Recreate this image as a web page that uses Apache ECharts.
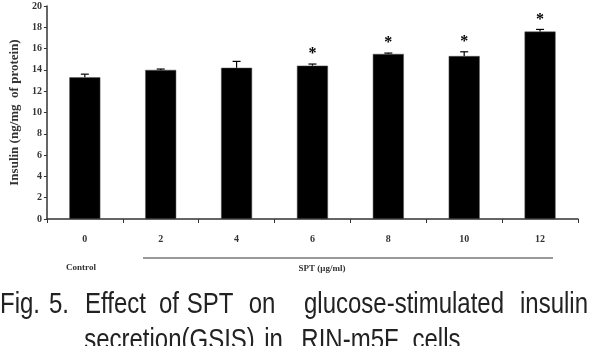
<!DOCTYPE html>
<html>
<head>
<meta charset="utf-8">
<script src="https://cdn.jsdelivr.net/npm/echarts@6/dist/echarts.min.js"></script>
<style>
  html, body { margin: 0; padding: 0; background: #fff; }
  #chart { width: 590px; height: 346px; }
</style>
</head>
<body>
<div id="chart"></div>
<script>
// SPT dose (ug/ml), 0 = control
var doses = ['0', '2', '4', '6', '8', '10', '12'];
var insulin = [13.3, 14.0, 14.2, 14.4, 15.5, 15.3, 17.6];
var errors = [0.3, 0.08, 0.6, 0.15, 0.08, 0.4, 0.2];
var significant = [false, false, false, true, true, true, true];
var yTicks = [0, 2, 4, 6, 8, 10, 12, 14, 16, 18, 20];

var serif = '"Liberation Serif", "DejaVu Serif", serif';
var capFont = '30px "Liberation Sans", Arial, sans-serif';

var myChart = echarts.init(document.getElementById('chart'));

// caption words with left/right edge, justified like the original
var line1 = [['Fig.', -2, 42], ['5.', 50, 68], ['Effect', 84, 147], ['of', 160, 178], ['SPT', 190, 230],
             ['on', 247, 277], ['glucose-stimulated', 303, 505], ['insulin', 523, 585]];
var line2 = [['secretion(GSIS)', 84, 255], ['in', 267, 280], ['RIN-m5F', 297, 403], ['cells', 413, 460]];

// narrow sans, each word centred in its slot
function captionWords(words, y) {
    return words.map(function (w) {
        return {
            type: 'text', x: (w[1] + w[2]) / 2, y: y, scaleX: 0.8,
            style: { text: w[0], font: capFont, fill: '#222', textAlign: 'center', textVerticalAlign: 'bottom' }
        };
    });
}

var graphics = [
    { type: 'line', shape: { x1: 143, y1: 258, x2: 553, y2: 258 }, style: { stroke: '#777', lineWidth: 1.5 } },
    { type: 'text', x: 81, y: 268, style: { text: 'Control', font: 'bold 9px ' + serif, fill: '#333', textAlign: 'center', textVerticalAlign: 'middle' } },
    { type: 'text', x: 322, y: 269, style: { text: 'SPT (\u03bcg/ml)', font: 'bold 9px ' + serif, fill: '#333', textAlign: 'center', textVerticalAlign: 'middle' } }
].concat(captionWords(line1, 320)).concat(captionWords(line2, 356));

var option = {
    animation: false,
    grid: { left: 43, right: 12, top: 6, bottom: 127 },
    xAxis: {
        type: 'category',
        data: doses,
        axisLine: { lineStyle: { color: '#333', width: 1.5 } },
        axisTick: { show: true, length: 4, lineStyle: { color: '#333' } },
        axisLabel: { margin: 15, fontFamily: serif, fontWeight: 'bold', fontSize: 10, color: '#333' }
    },
    yAxis: {
        type: 'value',
        min: yTicks[0],
        max: yTicks[yTicks.length - 1],
        interval: 2,
        name: 'Insulin (ng/mg  of protein)',
        nameLocation: 'middle',
        nameGap: 24,
        nameTextStyle: { fontFamily: serif, fontWeight: 'bold', fontSize: 13, color: '#333' },
        splitLine: { show: false },
        axisLine: { show: true, lineStyle: { color: '#333', width: 1.5 } },
        axisTick: { show: true, length: 3, lineStyle: { color: '#333' } },
        axisLabel: { margin: 5, fontFamily: serif, fontWeight: 'bold', fontSize: 10, color: '#333' }
    },
    graphic: graphics,
    series: [{
        type: 'bar',
        data: insulin,
        barWidth: 31,
        itemStyle: { color: '#000', borderColor: '#555', borderWidth: 0.5 }
    }, {
        type: 'custom',
        data: insulin.map(function (v, i) { return [i, v, errors[i], significant[i] ? 1 : 0]; }),
        renderItem: function (params, api) {
            var i = api.value(0);
            var top = api.coord([i, api.value(1) + api.value(2)]);
            var base = api.coord([i, api.value(1)]);
            var kids = [
                { type: 'line', shape: { x1: base[0], y1: base[1], x2: top[0], y2: top[1] }, style: { stroke: '#000', lineWidth: 1.2 } },
                { type: 'line', shape: { x1: top[0] - 4, y1: top[1], x2: top[0] + 4, y2: top[1] }, style: { stroke: '#000', lineWidth: 1.2 } }
            ];
            if (api.value(3)) {
                kids.push({ type: 'text', x: top[0], y: top[1] - 10, style: { text: '*', font: 'bold 16px ' + serif, fill: '#000', textAlign: 'center', textVerticalAlign: 'middle' } });
            }
            return { type: 'group', children: kids };
        },
        z: 5
    }]
};

myChart.setOption(option);
</script>
</body>
</html>
